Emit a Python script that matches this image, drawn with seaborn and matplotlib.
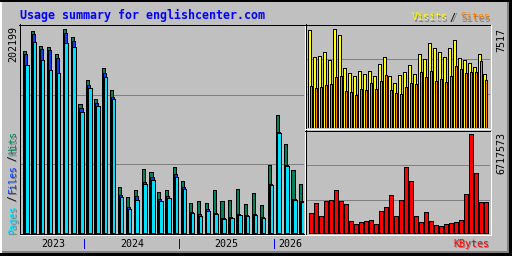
import numpy as np
import pandas as pd
import matplotlib
matplotlib.use("Agg")
import matplotlib.pyplot as plt
import seaborn as sns
from matplotlib.patches import Rectangle
from matplotlib.transforms import blended_transform_factory

# ---------------- data ----------------
title = "Usage summary for englishcenter.com"
years = ["2023", "2024", "2025", "2026"]
months_per_year = [8, 12, 12, 4]

hits = [180398, 200222, 185354, 184066, 177425, 202199, 194275, 127865, 151654,
        132821, 163548, 141742, 45595, 35683, 42622, 63437, 60463, 40639, 42622,
        65419, 51542, 29736, 31718, 29736, 42622, 31718, 32710, 43613, 28745,
        39648, 27754, 67402, 116962, 88217, 62446, 48569]
files = [177128, 197546, 182381, 181092, 173460, 198240, 190310, 123900, 146698,
         128856, 158592, 134803, 37666, 25771, 36674, 50551, 55507, 33701, 36674,
         58481, 45595, 20815, 18833, 23789, 19824, 14868, 15859, 18833, 17842,
         18833, 15859, 48569, 100111, 67402, 33701, 31718]
pages = [166522, 189022, 171478, 161566, 158592, 188328, 184363, 119935, 143724,
         125882, 154627, 132821, 35683, 23789, 32710, 48569, 52534, 31718, 34692,
         55507, 43613, 19824, 16850, 21806, 18833, 13877, 14868, 17842, 16850,
         17842, 14868, 47578, 99120, 66410, 32710, 30727]
visits = [7440, 5380, 5456, 5761, 5151, 7517, 7059, 4541, 4159, 3930, 4311, 4083,
          4311, 3930, 4846, 5380, 3930, 3396, 4006, 4235, 4769, 4083, 5609, 5227,
          6448, 6066, 5761, 5380, 6066, 6677, 5303, 5151, 4922, 4617, 5609, 4083]
sites = [3167, 3014, 3090, 3243, 3319, 3853, 3930, 2785, 2709, 2480, 2938, 2861,
         3396, 2938, 3548, 4006, 2861, 2632, 2556, 3090, 3396, 3319, 4235, 3853,
         4311, 3548, 3701, 3472, 3930, 4693, 4464, 4159, 4235, 4235, 5074, 3624]
kbytes = [1329900, 2011900, 1125300, 2148300, 2216500, 2898500, 2148300, 1943700,
          784300, 579700, 716100, 784300, 852500, 579700, 1466300, 1739100,
          2557500, 1125300, 2216500, 4467000, 3512200, 1125300, 716100, 1398100,
          784300, 511500, 443300, 579700, 647900, 716100, 852500, 2625700,
          6717573, 4057800, 2080100, 2080100]

# ---------------- style ----------------
GREY, DKGREY = "#C0C0C0", "#808080"
HIT, FILE, PAGE = "#00805C", "#0040FF", "#00E0FF"
VISIT, SITE, KB = "#FFFF00", "#FF8000", "#FF0000"
BLUE = "#0000FF"
MONO = "DejaVu Sans Mono"
LW = 0.72
plt.rcParams["patch.antialiased"] = False

W, H = 512, 256
fig = plt.figure(figsize=(W / 100, H / 100), dpi=100, facecolor=GREY)


def pix_axes(x0, y0, x1, y1):
    ax = fig.add_axes([x0 / W, 1 - y1 / H, (x1 - x0) / W, (y1 - y0) / H])
    ax.set_facecolor(GREY)
    return ax


ax_main = pix_axes(20, 25, 304, 234)
ax_vs = pix_axes(306, 25, 490, 128)
ax_kb = pix_axes(306, 131, 490, 234)

n = len(hits)
df = pd.DataFrame({"idx": np.arange(n), "hits": hits, "files": files,
                   "pages": pages, "visits": visits, "sites": sites,
                   "kbytes": kbytes})


def bars(ax, col, off, width, color):
    sns.barplot(x=df["idx"] + off, y=df[col], native_scale=True, orient="x",
                width=width, color=color, saturation=1, edgecolor="black",
                linewidth=LW, errorbar=None, ax=ax, zorder=3)


bars(ax_main, "hits", 0.0, 0.40, HIT)
bars(ax_main, "files", 0.125, 0.40, FILE)
bars(ax_main, "pages", 0.25, 0.45, PAGE)
bars(ax_vs, "visits", -0.12, 0.5, VISIT)
bars(ax_vs, "sites", 0.1, 0.5, SITE)
bars(ax_kb, "kbytes", 0.14, 0.65, KB)

ax_main.set_xlim(-0.605, n - 0.605)
ax_vs.set_xlim(-0.86, n - 0.06)
ax_kb.set_xlim(-0.86, n - 0.06)

u = max(hits) / 204
ax_main.set_ylim(-1 * u, max(hits) + 4 * u)
u = max(visits) / 98.5
ax_vs.set_ylim(-0.5 * u, max(visits) + 4 * u)
u = max(kbytes) / 98.5
ax_kb.set_ylim(-1.5 * u, max(kbytes) + 3 * u)

for ax in (ax_main, ax_vs, ax_kb):
    ax.set_xlabel("")
    ax.set_ylabel("")
    ax.set_xticks([])
    ax.set_yticks([])
    for s in ax.spines.values():
        s.set_visible(False)
    for f in (1 / 3, 2 / 3):
        ax.plot([0, 1], [f, f], transform=ax.transAxes, color=DKGREY, lw=LW,
                zorder=1, solid_capstyle="butt")

# ---------------- overlay (pixel coordinates) ----------------
ov = fig.add_axes([0, 0, 1, 1], zorder=20)
ov.set_xlim(0, W)
ov.set_ylim(H, 0)
ov.axis("off")
ov.patch.set_alpha(0)


def rect(x, y, w, h, c):
    ov.add_patch(Rectangle((x, y), w, h, facecolor=c, edgecolor="none",
                           antialiased=False))


def line(x0, y0, x1, y1, c):
    ov.plot([x0, x1], [y0, y1], color=c, lw=LW, solid_capstyle="butt",
            antialiased=False)


# outer 3D border
rect(0, 0, W, 2, "black")
rect(0, 2, 2, H - 2, "white")
rect(2, 251, W - 2, 2, DKGREY)
rect(507, 2, 2, 251, DKGREY)
rect(0, 253, W, 3, "black")
rect(509, 0, 3, H, "black")

# panel frames
line(19.5, 24, 19.5, 235, "black")
line(19, 24.5, 305, 24.5, "black")
line(20, 233.5, 304, 233.5, "black")
line(304.5, 25, 304.5, 235, "white")
line(20, 234.5, 305, 234.5, "white")

line(305.5, 24, 305.5, 129, "black")
line(305, 24.5, 491, 24.5, "black")
line(490.5, 25, 490.5, 129, "white")
line(306, 128.5, 491, 128.5, "white")

line(305.5, 130, 305.5, 235, "black")
line(305, 130.5, 491, 130.5, "black")
line(490.5, 131, 490.5, 235, "white")
line(306, 234.5, 491, 234.5, "white")


def stext(x, y, s, color, shadow=True, size=7.2, **kw):
    if shadow:
        ov.text(x + 1, y + 1, s, color=DKGREY, family=MONO, fontsize=size, **kw)
    ov.text(x, y, s, color=color, family=MONO, fontsize=size, **kw)


# title and legends
ov.text(20, 19, title, color=BLUE, family=MONO, fontweight="bold",
        fontsize=8.4, ha="left", va="baseline")
stext(412, 20.5, "Visits", VISIT, ha="left", va="baseline")
stext(450, 20.5, "/", "black", ha="left", va="baseline")
stext(460, 20.5, "Sites", SITE, ha="left", va="baseline")
stext(489, 247, "KBytes", KB, ha="right", va="baseline")

vert = dict(rotation=90, rotation_mode="anchor", va="baseline")
stext(16, 219.5, "Pages", PAGE, size=6.9, ha="center", **vert)
stext(16, 198.5, "/", "black", size=6.9, ha="center", **vert)
stext(16, 178.5, "Files", FILE, size=6.9, ha="center", **vert)
stext(16, 158.5, "/", "black", size=6.9, ha="center", **vert)
stext(16, 143.0, "Hits", HIT, size=6.9, ha="center", **vert)

# max value labels
stext(16, 26, str(max(hits)), "black", shadow=False, ha="right", **vert)
stext(504, 28, str(max(visits)), "black", shadow=False, ha="right", **vert)
stext(504, 131.5, str(max(kbytes)), "black", shadow=False, ha="right", **vert)

# year labels and separators
blend = blended_transform_factory(ax_main.transData, ov.transData)
start = 0
for i, (yr, m) in enumerate(zip(years, months_per_year)):
    cx = start + (m - 1) / 2 + 0.1
    ov.text(cx, 247, yr, color="black", family=MONO, fontsize=7.2,
            ha="center", va="baseline", transform=blend)
    if i > 0:
        sx = start - 0.45
        ov.plot([sx, sx], [239, 248], color=BLUE, lw=LW, transform=blend,
                solid_capstyle="butt", antialiased=False)
    start += m

fig.savefig("out.png", dpi=100, facecolor=GREY)
